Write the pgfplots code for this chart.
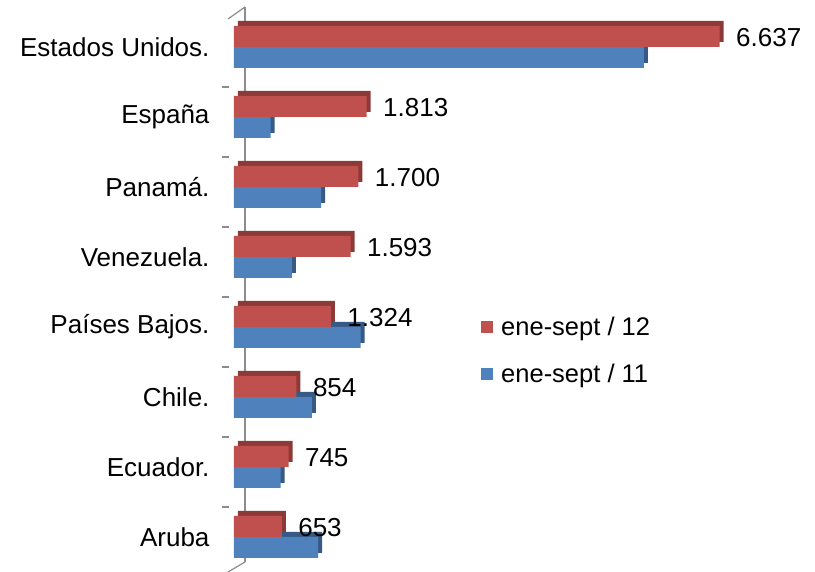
\documentclass[border=0pt]{standalone}
\usepackage{pgfplots}
\pgfplotsset{compat=1.18}
\usepackage{fontspec}
\setmainfont{Liberation Sans}
\definecolor{redF}{HTML}{C0504D}
\definecolor{redD}{HTML}{8C3A38}
\definecolor{bluF}{HTML}{4F81BD}
\definecolor{bluD}{HTML}{375A84}
\definecolor{wall}{HTML}{8C8C8C}
\begin{document}
\begin{tikzpicture}
\path[use as bounding box] (0,0) rectangle (815pt,572pt);
\draw[wall, line width=1.2pt] (245pt,10pt) -- (245pt,565pt);
\draw[wall, line width=1.2pt] (228pt,0pt) -- (245pt,10pt);
\draw[wall, line width=1.2pt] (228pt,553pt) -- (245pt,565pt);
\foreach \k in {65,135,205,275,345,415,485}
  \draw[wall, line width=1.2pt] (222pt,\k pt) -- (229pt,\k pt);
\begin{axis}[
  at={(234pt,0pt)}, anchor=south west, scale only axis,
  width=581pt, height=560pt,
  xmin=0, xmax=7940, ymin=-0.5, ymax=7.5,
  hide x axis,
  y axis line style={draw=none},
  ytick pos=left,
  major tick length=0pt,
  ytick={0,...,7},
  yticklabels={Aruba, Ecuador., Chile., Países Bajos., Venezuela., Panamá., España, Estados Unidos.},
  xbar, bar width=21pt,
  /pgf/number format/assume math mode=true,
  /pgf/number format/1000 sep={.},
  tick label style={font=\fontsize{26}{31}\selectfont},
  yticklabel style={xshift=-21pt},
  legend style={at={(0.42,0.395)}, anchor=west, draw=none, fill=none,
    font=\fontsize{25.5}{30}\selectfont, row sep=23pt,
    nodes={inner xsep=8pt}},
  legend cell align=left,
  reverse legend,
]
\addplot[fill=bluD, draw=none, bar shift=-10.5pt, xshift=4pt, yshift=5pt, forget plot]
  coordinates {(5600,7) (500,6) (1190,5) (790,4) (1730,3) (1065,2) (636,1) (1150,0)};
\addplot[fill=redD, draw=none, bar shift=10.5pt, xshift=4pt, yshift=5pt, forget plot]
  coordinates {(6637,7) (1813,6) (1700,5) (1593,4) (1324,3) (854,2) (745,1) (653,0)};
\addplot[fill=bluF, draw=none, bar shift=-10.5pt,
  legend image code/.code={\fill[bluF] (0pt,-6pt) rectangle (12pt,6pt);}]
  coordinates {(5600,7) (500,6) (1190,5) (790,4) (1730,3) (1065,2) (636,1) (1150,0)};
\addplot[fill=redF, draw=none, bar shift=10.5pt,
  legend image code/.code={\fill[redF] (0pt,-6pt) rectangle (12pt,6pt);},
  nodes near coords,
  nodes near coords style={anchor=west, xshift=13pt, yshift=-1pt, font=\fontsize{26}{31}\selectfont, text=black}]
  coordinates {(6637,7) (1813,6) (1700,5) (1593,4) (1324,3) (854,2) (745,1) (653,0)};
\legend{ene-sept / 11, ene-sept / 12}
\end{axis}
\end{tikzpicture}
\end{document}
